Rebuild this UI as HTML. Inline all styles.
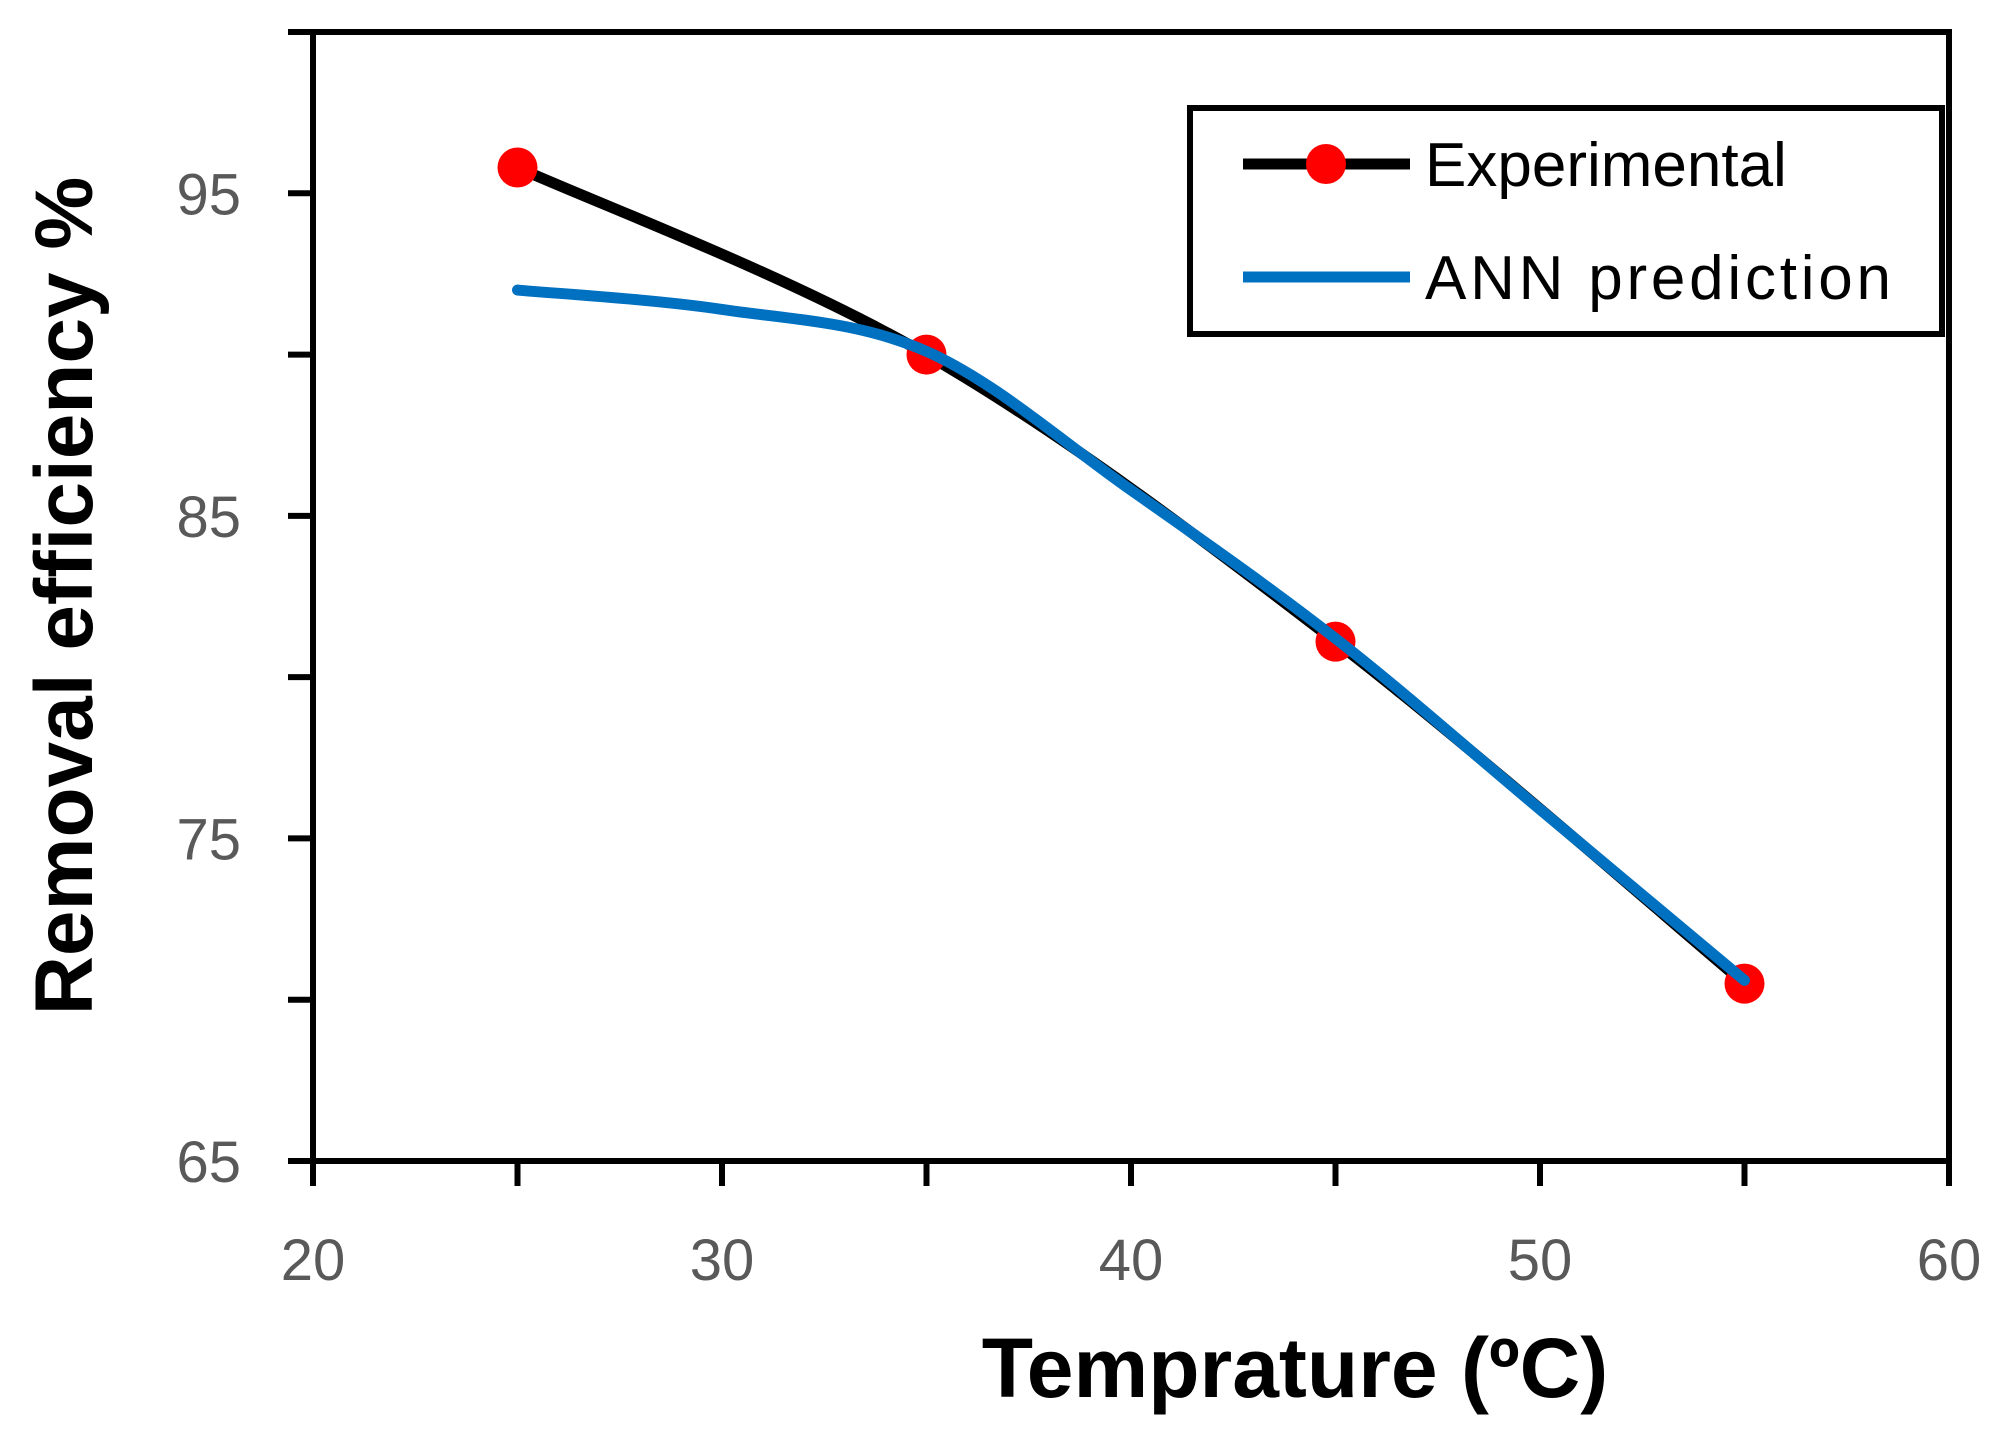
<!DOCTYPE html>
<html><head><meta charset="utf-8"><style>html,body{margin:0;padding:0;background:#fff}svg{display:block}text{font-family:"Liberation Sans",sans-serif}</style></head>
<body>
<svg id="chart" width="2001" height="1438" viewBox="0 0 2001 1438" xmlns="http://www.w3.org/2000/svg">
<g id="axes"></g>
<g id="series"></g>
<g id="legend">
<rect x="1190" y="108" width="752" height="226" fill="#fff" stroke="#000" stroke-width="6"/>
<line x1="1243" y1="164" x2="1410" y2="164" stroke="#000" stroke-width="11"/>
<circle cx="1326" cy="164" r="20" fill="#ff0000"/>
<text x="1425" y="186" font-size="62" fill="#000">Experimental</text>
<line x1="1243" y1="277" x2="1410" y2="277" stroke="#0070c0" stroke-width="11"/>
<text x="1425" y="299" font-size="62" fill="#000" textLength="466">ANN prediction</text>
</g>
<text x="1295" y="1397" font-size="84" font-weight="bold" text-anchor="middle">Temprature (ºC)</text>
<text transform="translate(92,596) rotate(-90)" font-size="82" font-weight="bold" text-anchor="middle">Removal efficiency %</text>
</svg>
<script>
const xTicks=[20,30,40,50,60];
const yTicks=[65,75,85,95];
const expX=[25,35,45,55];
const expY=[95.8,90.0,81.1,70.5];
const annX=[25,30,35,40,45,50,55];
const annY=[92.0,91.4,90.1,85.8,81.2,75.9,70.6];
const L=313,R=1949,T=32,B=1161,xmin=20,xmax=60,ymin=65,ymax=100;
const sx=v=>L+(v-xmin)/(xmax-xmin)*(R-L);
const sy=v=>B-(v-ymin)/(ymax-ymin)*(B-T);
const NS="http://www.w3.org/2000/svg";
function mk(tag,attrs,parent){const e=document.createElementNS(NS,tag);for(const k in attrs)e.setAttribute(k,attrs[k]);parent.appendChild(e);return e;}
const ax=document.getElementById('axes');
let e=mk('rect',{x:L,y:T,width:R-L,height:B-T,fill:'none',stroke:'#000','stroke-width':6},ax);


for(let v=65;v<=100;v+=5){e=mk('line',{x1:L-25,x2:L,y1:sy(v),y2:sy(v),stroke:'#000','stroke-width':6},ax);

}
for(let v=20;v<=60;v+=5){e=mk('line',{x1:sx(v),x2:sx(v),y1:B,y2:B+25,stroke:'#000','stroke-width':6},ax);

}
yTicks.forEach(v=>{e=mk('text',{x:L-72,y:sy(v)+21,'font-size':58,fill:'#595959','text-anchor':'end'},ax);e.textContent=v;

});
xTicks.forEach(v=>{e=mk('text',{x:sx(v),y:1280,'font-size':58,fill:'#595959','text-anchor':'middle'},ax);e.textContent=v;

});
function smooth(xs,ys){const p=xs.map((x,i)=>[sx(x),sy(ys[i])]);let d='M'+p[0][0]+','+p[0][1];
for(let i=0;i<p.length-1;i++){const p0=p[i-1]||p[i],p1=p[i],p2=p[i+1],p3=p[i+2]||p2;
d+=` C${p1[0]+(p2[0]-p0[0])/6},${p1[1]+(p2[1]-p0[1])/6} ${p2[0]-(p3[0]-p1[0])/6},${p2[1]-(p3[1]-p1[1])/6} ${p2[0]},${p2[1]}`;}return d;}
const sg=document.getElementById('series');
e=mk('path',{d:smooth(expX,expY),fill:'none',stroke:'#000','stroke-width':11,'stroke-linecap':'round'},sg);


expX.forEach((x,i)=>{e=mk('circle',{cx:sx(x),cy:sy(expY[i]),r:20,fill:'#ff0000'},sg);

});
e=mk('path',{d:smooth(annX,annY),fill:'none',stroke:'#0070c0','stroke-width':11,'stroke-linecap':'round'},sg);


</script>
</body></html>
